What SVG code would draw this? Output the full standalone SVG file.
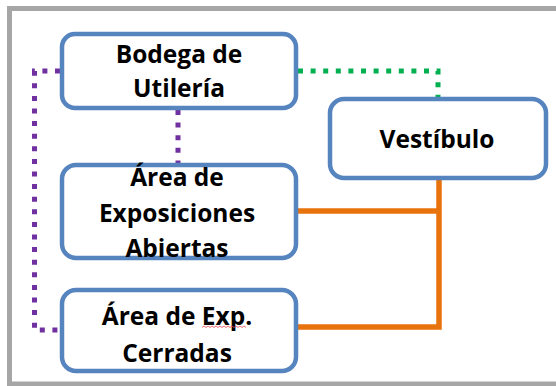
<svg xmlns="http://www.w3.org/2000/svg" width="556" height="386" viewBox="0 0 556 386">
<style>
.box{fill:#fff;stroke:#5584BF;stroke-width:4.5}
.t{font-family:"Open Sans","DejaVu Sans",sans-serif;font-weight:bold;font-size:24.5px;fill:#000;text-anchor:middle}
.dot{fill:none;stroke-width:5;stroke-dasharray:5 7.6}
.pur{stroke:#7030A0}
.grn{stroke:#00B050}
.org{fill:none;stroke:#E8720C;stroke-width:5.5}
</style>
<rect x="0" y="0" width="556" height="386" fill="#fff"/>
<rect x="9.5" y="8.5" width="570" height="375.5" fill="#fff" stroke="#A6A6A6" stroke-width="5"/>
<g id="connectors">
<path class="dot pur" d="M60,71 H34.5 V330 H60"/>
<path class="dot pur" d="M178,110 V163"/>
<path class="dot grn" d="M298,71 H438 V97"/>
<path class="org" d="M439,180 V327 H298"/>
<path class="org" d="M298,211 H439"/>
</g>
<g id="bodega">
<rect class="box" x="62" y="34" width="234" height="74" rx="13"/>
<text class="t" x="179" y="63">Bodega de</text>
<text class="t" x="179" y="97">Utilería</text>
</g>
<g id="vestibulo">
<rect class="box" x="330" y="99" width="216" height="79" rx="14"/>
<text class="t" x="437" y="148">Vestíbulo</text>
</g>
<g id="exposiciones">
<rect class="box" x="62" y="165" width="234" height="93" rx="14"/>
<text class="t" x="177" y="186">Área de</text>
<text class="t" x="177" y="222">Exposiciones</text>
<text class="t" x="177" y="257">Abiertas</text>
</g>
<g id="cerradas">
<rect class="box" x="62" y="290" width="234" height="81" rx="14"/>
<text class="t" x="177" y="325">Área de Exp.</text>
<text class="t" x="177" y="362">Cerradas</text>
<path d="M202,327.5 l2,-1.5 l2,1.5 l2,-1.5 l2,1.5 l2,-1.5 l2,1.5 l2,-1.5 l2,1.5 l2,-1.5 l2,1.5 l2,-1.5 l2,1.5 l2,-1.5 l2,1.5 l2,-1.5 l2,1.5 l2,-1.5 l2,1.5 l2,-1.5 l2,1.5 l2,-1.5 l2,1.5" fill="none" stroke="#E8484F" stroke-width="0.8"/>
</g>
</svg>
